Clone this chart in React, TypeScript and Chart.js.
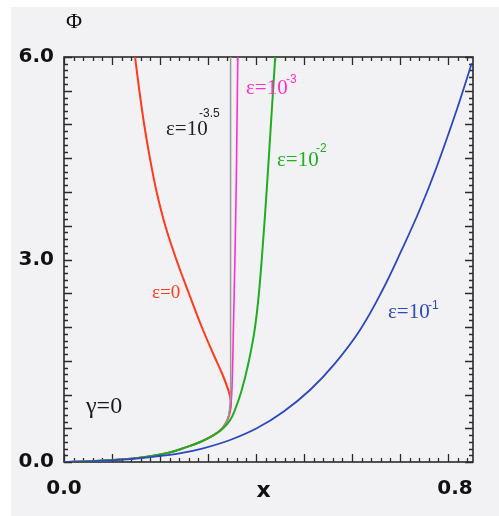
import React, { useEffect, useRef } from "react";
import { Chart, registerables } from "chart.js";

Chart.register(...registerables);

// ---- data (x, Φ) ----
const redX = [0, 0.05, 0.1, 0.14, 0.18, 0.22, 0.255, 0.285, 0.31, 0.33, 0.342, 0.347, 0.347, 0.343, 0.33, 0.311, 0.287, 0.26, 0.234, 0.211, 0.193, 0.179, 0.167, 0.157, 0.148];
const redY = [0, 0.012, 0.03, 0.05, 0.085, 0.14, 0.22, 0.3, 0.39, 0.5, 0.65, 0.8, 0.92, 1.05, 1.3, 1.6, 2.0, 2.5, 3.0, 3.5, 4.0, 4.5, 5.0, 5.5, 6.0];

const grayX = [0, 0.05, 0.1, 0.14, 0.18, 0.22, 0.255, 0.285, 0.31, 0.33, 0.341, 0.345, 0.347, 0.347, 0.347, 0.347];
const grayY = [0, 0.012, 0.03, 0.05, 0.085, 0.14, 0.22, 0.3, 0.39, 0.5, 0.63, 0.8, 1.0, 2.0, 4.0, 6.0];

const magX = [0, 0.05, 0.1, 0.14, 0.18, 0.22, 0.255, 0.285, 0.31, 0.33, 0.341, 0.347, 0.35, 0.353, 0.356, 0.359, 0.362];
const magY = [0, 0.012, 0.03, 0.05, 0.085, 0.14, 0.22, 0.3, 0.39, 0.5, 0.63, 0.82, 1.1, 2.0, 3.0, 4.2, 6.0];

const greenX = [0, 0.05, 0.1, 0.14, 0.18, 0.22, 0.255, 0.285, 0.31, 0.33, 0.346, 0.356, 0.37, 0.384, 0.397, 0.406, 0.414, 0.422, 0.431, 0.44];
const greenY = [0, 0.012, 0.03, 0.05, 0.085, 0.14, 0.22, 0.3, 0.39, 0.49, 0.62, 0.77, 1.06, 1.46, 1.95, 2.5, 3.2, 4.0, 5.0, 6.0];

const blueX = [0, 0.05, 0.1, 0.15, 0.2, 0.235, 0.29, 0.346, 0.4015, 0.457, 0.5125, 0.5646, 0.6167, 0.6625, 0.7035, 0.7417, 0.7765, 0.818, 0.8494];
const blueY = [0, 0.005, 0.025, 0.05, 0.089, 0.119, 0.203, 0.326, 0.499, 0.745, 1.067, 1.462, 1.956, 2.533, 3.141, 3.748, 4.375, 5.215, 5.907];

const xTickValues = [0, 0.8];
const xTickLabels = ["0.0", "0.8"];
const yTickValues = [0, 3, 6];
const yTickLabels = ["0.0", "3.0", "6.0"];

const X_MIN = 0;
const X_MAX = 0.852;
const Y_MIN = 0;
const Y_MAX = 6;

const pts = (xs: number[], ys: number[]) => xs.map((x, i) => ({ x, y: ys[i] }));

const SERIF = '"Liberation Serif", "DejaVu Serif", serif';
const SANS = '"Liberation Sans", Arial, sans-serif';
const BOLD = '"DejaVu Sans", sans-serif';

type Ann = {
  base: string;
  sup?: string;
  color: string;
  x: number;
  y: number;
  sx?: number;
  sy?: number;
  size: number;
};

const annotations: Ann[] = [
  { base: "ε=10", sup: "-3.5", color: "#222222", x: 166, y: 135, sx: 199, sy: 117, size: 21 },
  { base: "ε=10", sup: "-3", color: "#ff30c8", x: 246, y: 94, sx: 286, sy: 83, size: 21 },
  { base: "ε=10", sup: "-2", color: "#1fae1f", x: 277, y: 166, sx: 316, sy: 152, size: 21 },
  { base: "ε=10", sup: "-1", color: "#2a48c0", x: 388, y: 318, sx: 428, sy: 309, size: 21 },
  { base: "ε=0", color: "#ff3a1a", x: 152, y: 298, size: 19 },
  { base: "γ=0", color: "#1a1a1a", x: 86, y: 413, size: 24 },
];

const framePlugin = {
  id: "frame",
  beforeDraw(chart: any) {
    const ctx = chart.ctx;
    ctx.save();
    ctx.fillStyle = "#ffffff";
    ctx.fillRect(0, 0, chart.width, chart.height);
    ctx.fillStyle = "#f2f2f5";
    ctx.fillRect(11, 7, chart.width - 11, chart.height - 7);
    ctx.restore();
  },
  beforeDatasetsDraw(chart: any) {
    const ctx = chart.ctx;
    const { left, right, top, bottom } = chart.chartArea;
    const xs = chart.scales.x;
    const ys = chart.scales.y;
    ctx.save();
    ctx.strokeStyle = "#2a2a2a";
    ctx.lineWidth = 1.6;
    ctx.strokeRect(left, top, right - left, bottom - top);
    ctx.lineWidth = 1.3;
    ctx.beginPath();
    for (let i = 0; i * 0.02 <= X_MAX + 1e-9; i++) {
      const v = i * 0.02;
      const px = Math.round(xs.getPixelForValue(v)) + 0.5;
      const len = i % 5 === 0 ? 8 : 4;
      ctx.moveTo(px, bottom);
      ctx.lineTo(px, bottom - len);
      ctx.moveTo(px, top);
      ctx.lineTo(px, top + len);
    }
    for (let i = 0; i * 0.1 <= Y_MAX + 1e-9; i++) {
      const v = i * 0.1;
      const py = Math.round(ys.getPixelForValue(v)) + 0.5;
      const len = i % 5 === 0 ? 8 : 4;
      ctx.moveTo(left, py);
      ctx.lineTo(left + len, py);
      ctx.moveTo(right, py);
      ctx.lineTo(right - len, py);
    }
    ctx.stroke();
    ctx.restore();
  },
  afterDraw(chart: any) {
    const ctx = chart.ctx;
    const { left, bottom } = chart.chartArea;
    const xs = chart.scales.x;
    const ys = chart.scales.y;
    ctx.save();
    ctx.fillStyle = "#111111";
    ctx.font = `bold 20px ${BOLD}`;
    ctx.textAlign = "right";
    ctx.textBaseline = "middle";
    yTickValues.forEach((v, i) => {
      ctx.fillText(yTickLabels[i], left - 10, ys.getPixelForValue(v));
    });
    ctx.textAlign = "center";
    ctx.textBaseline = "top";
    xTickValues.forEach((v, i) => {
      const dx = i === xTickValues.length - 1 ? 7 : 0;
      ctx.fillText(xTickLabels[i], xs.getPixelForValue(v) + dx, bottom + 17);
    });
    ctx.font = `bold 22px ${BOLD}`;
    ctx.textBaseline = "alphabetic";
    ctx.fillText("x", 263.5, 497);
    ctx.font = `22px ${SERIF}`;
    ctx.fillText("Φ", 74, 28);
    ctx.textAlign = "left";
    annotations.forEach((a) => {
      ctx.fillStyle = a.color;
      ctx.font = `${a.size}px ${SERIF}`;
      ctx.fillText(a.base, a.x, a.y);
      if (a.sup) {
        ctx.font = `12px ${SANS}`;
        ctx.fillText(a.sup, a.sx as number, a.sy as number);
      }
    });
    ctx.restore();
  },
};

export default function App() {
  const ref = useRef<HTMLCanvasElement | null>(null);
  useEffect(() => {
    if (!ref.current) return;
    const mk = (label: string, xs: number[], ys: number[], color: string, w: number, tension = 0.4) => ({
      label,
      data: pts(xs, ys),
      borderColor: color,
      backgroundColor: color,
      borderWidth: w,
      showLine: true,
      pointRadius: 0,
      tension,
      fill: false,
    });
    const chart = new Chart(ref.current, {
      type: "scatter",
      data: {
        datasets: [
          mk("ε=10^-1", blueX, blueY, "#2a48c0", 1.8),
          mk("ε=10^-2", greenX, greenY, "#1fae1f", 2),
          mk("ε=10^-3.5", grayX, grayY, "#9a9a9a", 1.5, 0.3),
          mk("ε=10^-3", magX, magY, "#ff30c8", 1.6, 0.3),
          mk("ε=0", redX, redY, "#ff3a1a", 2),
        ],
      },
      options: {
        animation: false,
        responsive: false,
        events: [],
        layout: { padding: { left: 64, top: 57, right: 26, bottom: 54 } },
        plugins: { legend: { display: false }, tooltip: { enabled: false }, title: { display: false } },
        scales: {
          x: { type: "linear", min: X_MIN, max: X_MAX, display: false },
          y: { type: "linear", min: Y_MIN, max: Y_MAX, display: false },
        },
      },
      plugins: [framePlugin],
    } as any);
    return () => chart.destroy();
  }, []);
  return (
    <div style={{ position: "absolute", left: 0, top: 0, width: 499, height: 516, background: "#fff" }}>
      <canvas ref={ref} width={499} height={516} style={{ display: "block", width: 499, height: 516 }} />
    </div>
  );
}
